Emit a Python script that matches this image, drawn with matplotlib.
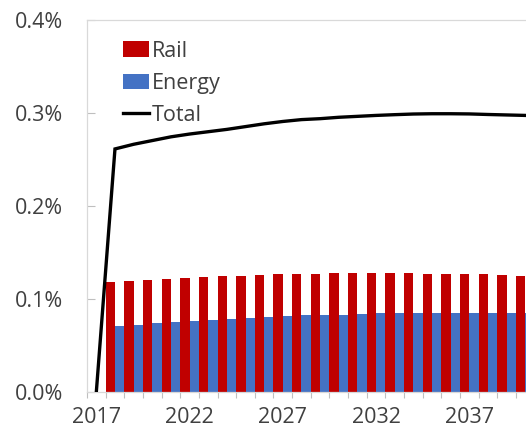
import numpy as np, matplotlib
matplotlib.use("Agg"); import matplotlib.pyplot as plt
from matplotlib.patches import Patch
from matplotlib.lines import Line2D
from matplotlib.ticker import FixedLocator, FuncFormatter

RED = "#c00000"; BLUE = "#4472c4"; INK = "#404040"; AXIS = "#d9d9d9"; TICK = "#bfbfbf"
plt.rcParams.update({"font.family": ["Open Sans", "DejaVu Sans"], "font.size": 15.5,
                     "text.color": INK, "xtick.color": INK, "ytick.color": INK})

years = list(range(2017, 2042))
# percent of GDP
rail = [0.0, 0.1186, 0.1197, 0.1208, 0.1215, 0.1226, 0.1237, 0.1244, 0.1250, 0.1258,
        0.1262, 0.1269, 0.1269, 0.1276, 0.1276, 0.1276, 0.1276, 0.1276, 0.1269, 0.1269,
        0.1262, 0.1262, 0.1258, 0.1250, 0.1250]
energy = [0.0, 0.0706, 0.0724, 0.0738, 0.0749, 0.0760, 0.0771, 0.0781, 0.0792, 0.0803,
          0.0814, 0.0824, 0.0828, 0.0832, 0.0839, 0.0846, 0.0846, 0.0846, 0.0853, 0.0853,
          0.0853, 0.0853, 0.0853, 0.0853, 0.0853]
total = [0.0, 0.261, 0.266, 0.270, 0.274, 0.277, 0.2795, 0.282, 0.285, 0.288,
         0.2905, 0.2925, 0.2935, 0.295, 0.296, 0.297, 0.2978, 0.2985, 0.2988, 0.2988,
         0.2986, 0.298, 0.2975, 0.297, 0.2965]
label_years = [2017, 2022, 2027, 2032, 2037]

x = np.arange(len(years))
fig = plt.figure(figsize=(5.26, 4.28), dpi=100)
ax = fig.add_axes([87/526, 36/428, 1 - 87/526, (428 - 36 - 19.5)/428])

ax.bar(x - 0.25, rail, width=0.5, color=RED, zorder=2)
ax.bar(x + 0.25, energy, width=0.5, color=BLUE, zorder=2)
ax.plot(x, total, color="black", lw=2.4, zorder=3, solid_joinstyle="miter")

ax.set_xlim(-0.5, 23.04)
ax.set_ylim(0, 0.4)
ax.set_yticks(np.arange(0, 0.41, 0.1))
ax.yaxis.set_major_formatter(FuncFormatter(lambda v, _: "%.1f%%" % v))
ax.tick_params(axis="y", direction="in", length=5.5, width=0.8, color=TICK, pad=17)

ax.set_xticks([years.index(y) for y in label_years])
ax.set_xticklabels([str(y) for y in label_years])
ax.xaxis.set_minor_locator(FixedLocator(np.arange(-0.5, 24, 1.0)))
ax.tick_params(axis="x", which="major", length=0, pad=11)
ax.tick_params(axis="x", which="minor", direction="out", length=4.3, width=0.8, color=TICK)

for s in ("left", "bottom", "top"):
    ax.spines[s].set_color(AXIS); ax.spines[s].set_linewidth(0.9)
ax.spines["right"].set_visible(False)

handles = [Patch(facecolor=RED, edgecolor="none", label="Rail"),
           Patch(facecolor=BLUE, edgecolor="none", label="Energy"),
           Line2D([], [], color="black", lw=2.4, label="Total")]
ax.legend(handles=handles, loc="upper left", bbox_to_anchor=(0.081, 0.943), frameon=False,
          borderpad=0, borderaxespad=0, handlelength=1.25, handleheight=0.75,
          handletextpad=0.1, labelspacing=0.52, fontsize=15.5)

fig.savefig("out.png", dpi=100)
